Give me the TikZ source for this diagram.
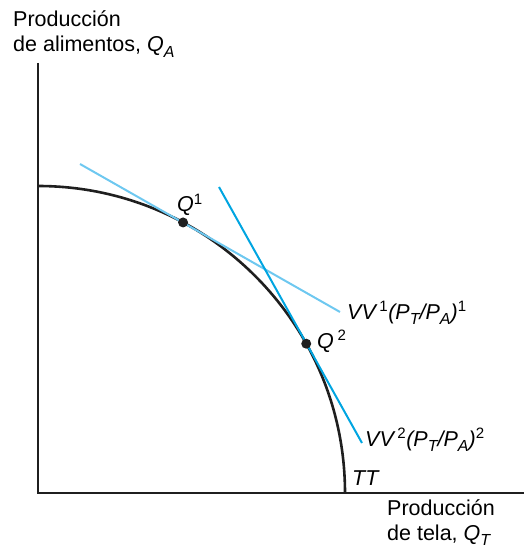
\documentclass[tikz,border=0pt]{standalone}
\usepackage{fontspec}
\setmainfont{Liberation Sans}
\usepackage{xcolor}
\usetikzlibrary{positioning,calc}
\definecolor{paleblue}{RGB}{110,200,240}
\definecolor{deepblue}{RGB}{0,165,225}
\newcommand{\lowidx}[1]{\raisebox{-5.5pt}{\fontsize{16}{16}\selectfont\itshape #1}}

\begin{document}
\begin{tikzpicture}[
  x=1pt, y=1pt,
  font=\fontsize{21.5}{25}\selectfont,
  axis/.style={line width=2.5pt, black!88},
  ppf/.style={line width=2.6pt, black!88},
  budget/.style={line width=2pt},
  lbl/.style={inner sep=0pt, anchor=base west},
  dot/.style={circle, fill=black!88, inner sep=0pt, minimum size=10pt},
]
\useasboundingbox (-38,-57) rectangle (486,493);

% ── ejes ──
\coordinate (O)    at (0,0);
\coordinate (ytop) at (0,430);
\coordinate (xend) at (486,0);
\draw[axis] (ytop) -- (O) -- (xend);

% ── frontera de posibilidades de producción ──
\coordinate (ttA) at (0,307);
\draw[ppf] (ttA) arc[start angle=90, end angle=0, radius=307] coordinate (ttB);

% ── rectas de valor ──
\coordinate (v1a) at (42,329);
\coordinate (v1b) at (302,181);
\coordinate (v2a) at (181,306);
\coordinate (v2b) at (324,50);
\draw[budget, paleblue] (v1a) -- (v1b);
\draw[budget, deepblue] (v2a) -- (v2b);

% ── puntos de producción ──
\node[dot] (q1) at (61.8:307) {};
\node[dot] (q2) at (29.1:307) {};

% ── etiquetas (base = última línea) ──
\node[lbl, align=left] (ylab) at (-25,441)
  {Producción\\de alimentos, \textit{Q}\lowidx{A}};
\node[lbl, align=left] (xlab) at (349,-47)
  {Producción\\de tela, \textit{Q}\lowidx{T}};
\node[lbl] (q1lab) at (139,281) {\textit{Q}\textsuperscript{1}};
\node[lbl] (q2lab) at (279,145) {\textit{Q}\,\textsuperscript{2}};
\node[lbl] (v1lab) at (309,174)
  {\textit{VV\,\textsuperscript{\textup{1}}(P\lowidx{T}/P\lowidx{A})\textsuperscript{\textup{1}}}};
\node[lbl] (v2lab) at (327,47)
  {\textit{VV\,\textsuperscript{\textup{2}}(P\lowidx{T}/P\lowidx{A})\textsuperscript{\textup{2}}}};
\node[lbl] (ttlab) at (314,8) {\textit{TT}};

\end{tikzpicture}
\end{document}
